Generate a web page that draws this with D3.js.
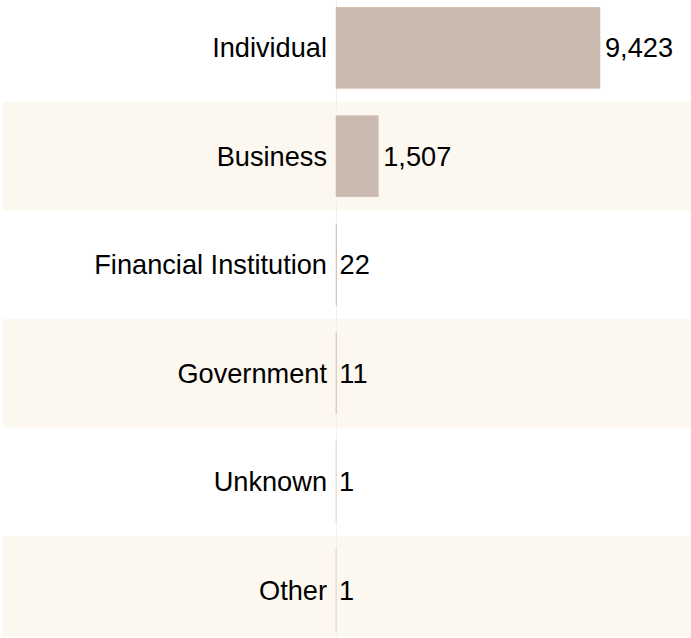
<!DOCTYPE html>
<html>
<head>
<meta charset="utf-8">
<script src="https://cdn.jsdelivr.net/npm/d3@7"></script>
<style>
  body { margin: 0; background: #fff; }
</style>
</head>
<body>
<div id="chart"></div>
<script>
// data
const categories = ["Individual", "Business", "Financial Institution", "Government", "Unknown", "Other"]
const counts = [9423, 1507, 22, 11, 1, 1]

let dimensions = {
  width: 691,
  height: 638
}

const svg = d3.select("#chart")
              .append("svg")
              .attr("width", dimensions.width)
              .attr("height", dimensions.height)

const rows = categories.map((c, i) => ({ name: c, value: counts[i], i: i }))

// Scales
const axisX = 336
const xScale = d3.scaleLinear()
                 .domain([0, d3.max(counts)])
                 .range([axisX, 600])

const yScale = d3.scaleBand()
                 .domain(categories)
                 .range([-6.5, 644.5])
                 .paddingInner(0)

const barPad = 13.75

// alternating row bands
svg.append("g")
   .selectAll("rect")
   .data(rows)
   .join("rect")
   .attr("x", 3)
   .attr("y", d => yScale(d.name))
   .attr("width", dimensions.width - 3)
   .attr("height", d => Math.min(yScale.bandwidth(), 637 - yScale(d.name)))
   .attr("fill", d => d.i % 2 === 1 ? "#fcf7ef" : "#ffffff")

// baseline
svg.append("line")
   .attr("x1", axisX + 0.5)
   .attr("x2", axisX + 0.5)
   .attr("y1", 0)
   .attr("y2", dimensions.height)
   .attr("stroke", "#f3f1ef")
   .attr("stroke-width", 1)

// bars
svg.append("g")
   .selectAll("rect")
   .data(rows)
   .join("rect")
   .attr("x", xScale(0))
   .attr("y", d => yScale(d.name) + barPad)
   .attr("width", d => xScale(d.value) - xScale(0))
   .attr("height", yScale.bandwidth() - 2 * barPad)
   .attr("fill", "#c9bab0")
   .attr("stroke", "#d6bcab")
   .attr("stroke-width", 0.6)

// category labels
svg.append("g")
   .selectAll("text")
   .data(rows)
   .join("text")
   .attr("x", axisX - 9)
   .attr("y", d => yScale(d.name) + yScale.bandwidth() / 2)
   .attr("dy", "0.35em")
   .attr("text-anchor", "end")
   .attr("font-family", "Liberation Sans, Arial, sans-serif")
   .attr("font-size", "27.2px")
   .attr("fill", "#000")
   .text(d => d.name)

// value labels
svg.append("g")
   .selectAll("text")
   .data(rows)
   .join("text")
   .attr("x", d => xScale(d.value) + (d.value < 100 ? 3 : 5))
   .attr("y", d => yScale(d.name) + yScale.bandwidth() / 2)
   .attr("dy", "0.35em")
   .attr("font-family", "Liberation Sans, Arial, sans-serif")
   .attr("font-size", "27.2px")
   .attr("fill", "#000")
   .text(d => d3.format(",")(d.value))
</script>
</body>
</html>
